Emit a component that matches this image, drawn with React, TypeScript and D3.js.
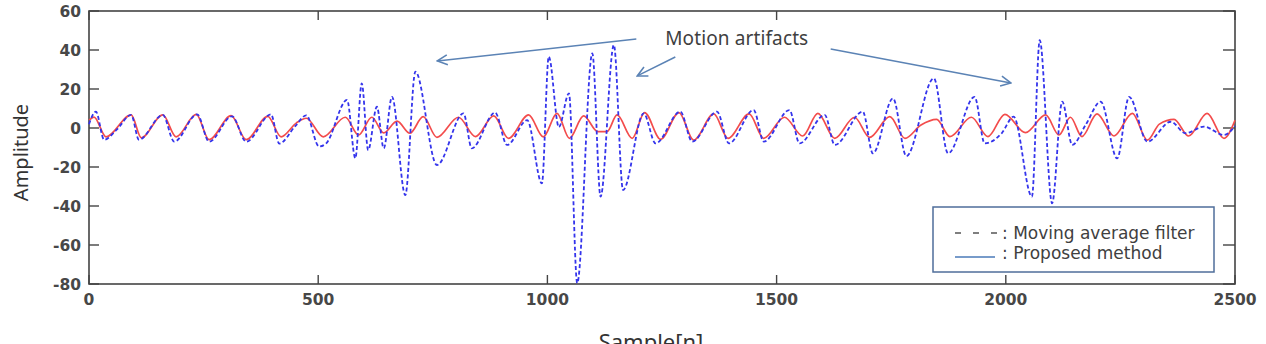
import React from 'react';
import * as d3 from 'd3';

// axis ticks
const xTicks = [0, 500, 1000, 1500, 2000, 2500];
const yTicks = [60, 40, 20, 0, -20, -40, -60, -80];

// turning points of the moving average filter output: [sample, amplitude]
const movingAverage: [number, number][] = [
  [0, 2], [15, 8.4], [33, -6], [60, -1], [92, 6.7], [109, -6], [161, 6.7], [186, -7],
  [236, 7], [262, -7], [312, 6], [343, -7], [397, 7], [415, -8], [450, 1], [474, 6.5],
  [502, -9.5], [517, -8], [563, 14.4], [581, -15.5], [595, 22.9], [609, -11.3], [628, 10.9],
  [643, -10.4], [661, 16], [690, -34.4], [712, 28.9], [759, -19], [817, 7.5], [835, -10.4],
  [886, 7.9], [912, -8.7], [956, 4], [988, -28.4], [1003, 36.6], [1025, 0.5], [1047, 17.8],
  [1065, -79.5], [1098, 38.3], [1116, -35.2], [1145, 42.6], [1165, -31.8], [1210, 7.5],
  [1236, -7.9], [1290, 8.4], [1316, -7], [1370, 8.4], [1396, -7.9], [1450, 9.2], [1472, -7],
  [1528, 9.2], [1550, -7.9], [1605, 6.7], [1627, -8.7], [1688, 8.4], [1710, -13],
  [1754, 15.2], [1783, -14.4], [1843, 25.5], [1874, -13], [1932, 16], [1954, -7.9],
  [1991, -2.7], [2017, 5.8], [2057, -35.2], [2074, 45], [2101, -38.6], [2123, 13.5],
  [2145, -8.7], [2174, 1.5], [2207, 13.5], [2243, -15.6], [2269, 16], [2309, -7],
  [2360, 3.2], [2392, -2.7], [2432, 0.7], [2476, -3.6], [2500, 1],
];

// turning points of the proposed method output: [sample, amplitude]
const proposed: [number, number][] = [
  [0, 4], [11, 5.6], [37, -4.5], [92, 6.7], [114, -5], [161, 6.7], [190, -4.5], [234, 7],
  [262, -6], [310, 6.3], [343, -6], [390, 6], [419, -4.5], [452, 2.5], [474, 5], [511, -4.5],
  [559, 5.5], [588, -3.6], [617, 5.5], [643, -2.5], [672, 3.5], [700, -2.7], [729, 5.8],
  [759, -4.8], [806, 5.5], [843, -4.4], [883, 6.2], [915, -5.3], [959, 6.7], [991, -4.6],
  [1021, 7.5], [1048, -5.3], [1079, 6.2], [1110, -1.9], [1130, -1.9], [1152, 6.7],
  [1185, -5.3], [1212, 7.9], [1247, -5.8], [1287, 7.9], [1319, -6.2], [1363, 7.2],
  [1394, -5.3], [1440, 7.2], [1472, -5.3], [1517, 5.5], [1557, -4.1], [1590, 7.5],
  [1627, -5.3], [1670, 5.5], [1703, -4.8], [1747, 5.8], [1780, -5.3], [1815, 1.5],
  [1849, 4.4], [1878, -4.4], [1925, 5.5], [1961, -4.4], [1998, 7], [2043, -2.4],
  [2087, 6.7], [2116, -3.6], [2141, 5.5], [2166, -4.4], [2199, 7.2], [2236, -4.1],
  [2276, 7.5], [2309, -6.2], [2335, 2], [2367, 4.4], [2399, -4.1], [2439, 7.5],
  [2476, -5.3], [2500, 4],
];

// "Motion artifacts" callout arrows: [from, to] in data units
const calloutArrows: [[number, number], [number, number]][] = [
  [[1194, 45.6], [760, 34.4]],
  [[1279, 36.4], [1196, 26.7]],
  [[1618, 40.5], [2011, 23.1]],
];
const calloutLabel = { text: 'Motion artifacts', at: [1413, 42.6] as [number, number] };

const legendItems = [
  { label: 'Moving average filter', dashed: true },
  { label: 'Proposed method', dashed: false },
];

const W = 1266;
const H = 344;
const margin = { top: 11, right: 31, bottom: 60, left: 89 };

const App = () => {
  const x = d3.scaleLinear().domain([0, 2500]).range([margin.left, W - margin.right]);
  const y = d3.scaleLinear().domain([-80, 60]).range([H - margin.bottom, margin.top]);

  const line = d3.line<[number, number]>()
    .x(d => x(d[0]))
    .y(d => y(d[1]))
    .curve(d3.curveMonotoneX);

  const x0 = x.range()[0], x1 = x.range()[1];
  const yTop = y.range()[1], yBot = y.range()[0];

  const axisColor = '#444';
  const tickFont = { fontFamily: 'DejaVu Sans', fontWeight: 700, fontSize: 15.5, fill: '#474747' };
  const arrowColor = '#5b83b5';

  // legend box sits in the lower right corner of the axes
  const lg = { w: 281, h: 65 };
  const lgX = x1 - 21 - lg.w;
  const lgY = yBot - 12 - lg.h;

  return (
    <svg width={W} height={H} style={{ position: 'absolute', left: 0, top: 0, background: '#fff' }}>
      <defs>
        <marker id="openArrow" viewBox="0 0 12 12" refX="11" refY="6" markerWidth="12" markerHeight="12"
          markerUnits="userSpaceOnUse" orient="auto">
          <path d="M1,1 L11,6 L1,11" fill="none" stroke={arrowColor} strokeWidth={1.6} />
        </marker>
      </defs>

      {/* frame */}
      <rect x={x0} y={yTop} width={x1 - x0} height={yBot - yTop} fill="#fff" stroke={axisColor} strokeWidth={1.6} />

      {/* x ticks, inward on top and bottom */}
      {xTicks.map(t => (
        <g key={'x' + t}>
          <line x1={x(t)} x2={x(t)} y1={yBot} y2={yBot - 9} stroke={axisColor} strokeWidth={1.4} />
          <line x1={x(t)} x2={x(t)} y1={yTop} y2={yTop + 9} stroke={axisColor} strokeWidth={1.4} />
          <text x={x(t)} y={yBot + 21} textAnchor="middle" {...tickFont}>{t}</text>
        </g>
      ))}

      {/* y ticks, inward on left and right */}
      {yTicks.map(t => (
        <g key={'y' + t}>
          <line x1={x0} x2={x0 + 10} y1={y(t)} y2={y(t)} stroke={axisColor} strokeWidth={1.4} />
          <line x1={x1} x2={x1 - 12} y1={y(t)} y2={y(t)} stroke={axisColor} strokeWidth={1.4} />
          <text x={x0 - 8} y={y(t)} dy="0.36em" textAnchor="end" {...tickFont}>{t}</text>
        </g>
      ))}

      {/* signals */}
      <path d={line(proposed) ?? ''} fill="none" stroke="#f34c4c" strokeWidth={1.7} />
      <path d={line(movingAverage) ?? ''} fill="none" stroke="#3434ec" strokeWidth={1.8} strokeDasharray="4,2.5" />

      {/* axis titles */}
      <text transform={`translate(28,${(yTop + yBot) / 2 + 5}) rotate(-90)`} textAnchor="middle"
        fontFamily="Noto Sans" fontSize={20} fill="#333">Amplitude</text>
      <text x={651} y={H + 6} textAnchor="middle" fontFamily="Noto Sans" fontSize={22} fill="#333">Sample[n]</text>

      {/* callout */}
      {calloutArrows.map(([a, b], i) => (
        <line key={'arr' + i} x1={x(a[0])} y1={y(a[1])} x2={x(b[0])} y2={y(b[1])}
          stroke={arrowColor} strokeWidth={1.5} markerEnd="url(#openArrow)" />
      ))}
      <text x={x(calloutLabel.at[0])} y={y(calloutLabel.at[1])} textAnchor="middle"
        fontFamily="Noto Sans" fontSize={19} fill="#404040" textLength={143} lengthAdjust="spacing">
        {calloutLabel.text}
      </text>

      {/* legend */}
      <g transform={`translate(${lgX},${lgY})`}>
        <rect width={lg.w} height={lg.h} fill="#fff" stroke="#4f6e9a" strokeWidth={1.5} />
        {legendItems.map((it, i) => {
          const cy = 29 + i * 20;
          return (
            <g key={it.label}>
              {it.dashed
                ? <line x1={22} x2={64} y1={cy - 3} y2={cy - 3} stroke="#555" strokeWidth={1.3} strokeDasharray="6,12" />
                : <line x1={22} x2={62} y1={cy + 1} y2={cy + 1} stroke="#4a7ab8" strokeWidth={1.3} />}
              <text x={69} y={cy + 3} fontFamily="DejaVu Sans" fontSize={17} fill="#404040">
                {': ' + it.label}
              </text>
            </g>
          );
        })}
      </g>
    </svg>
  );
};

export default App;
